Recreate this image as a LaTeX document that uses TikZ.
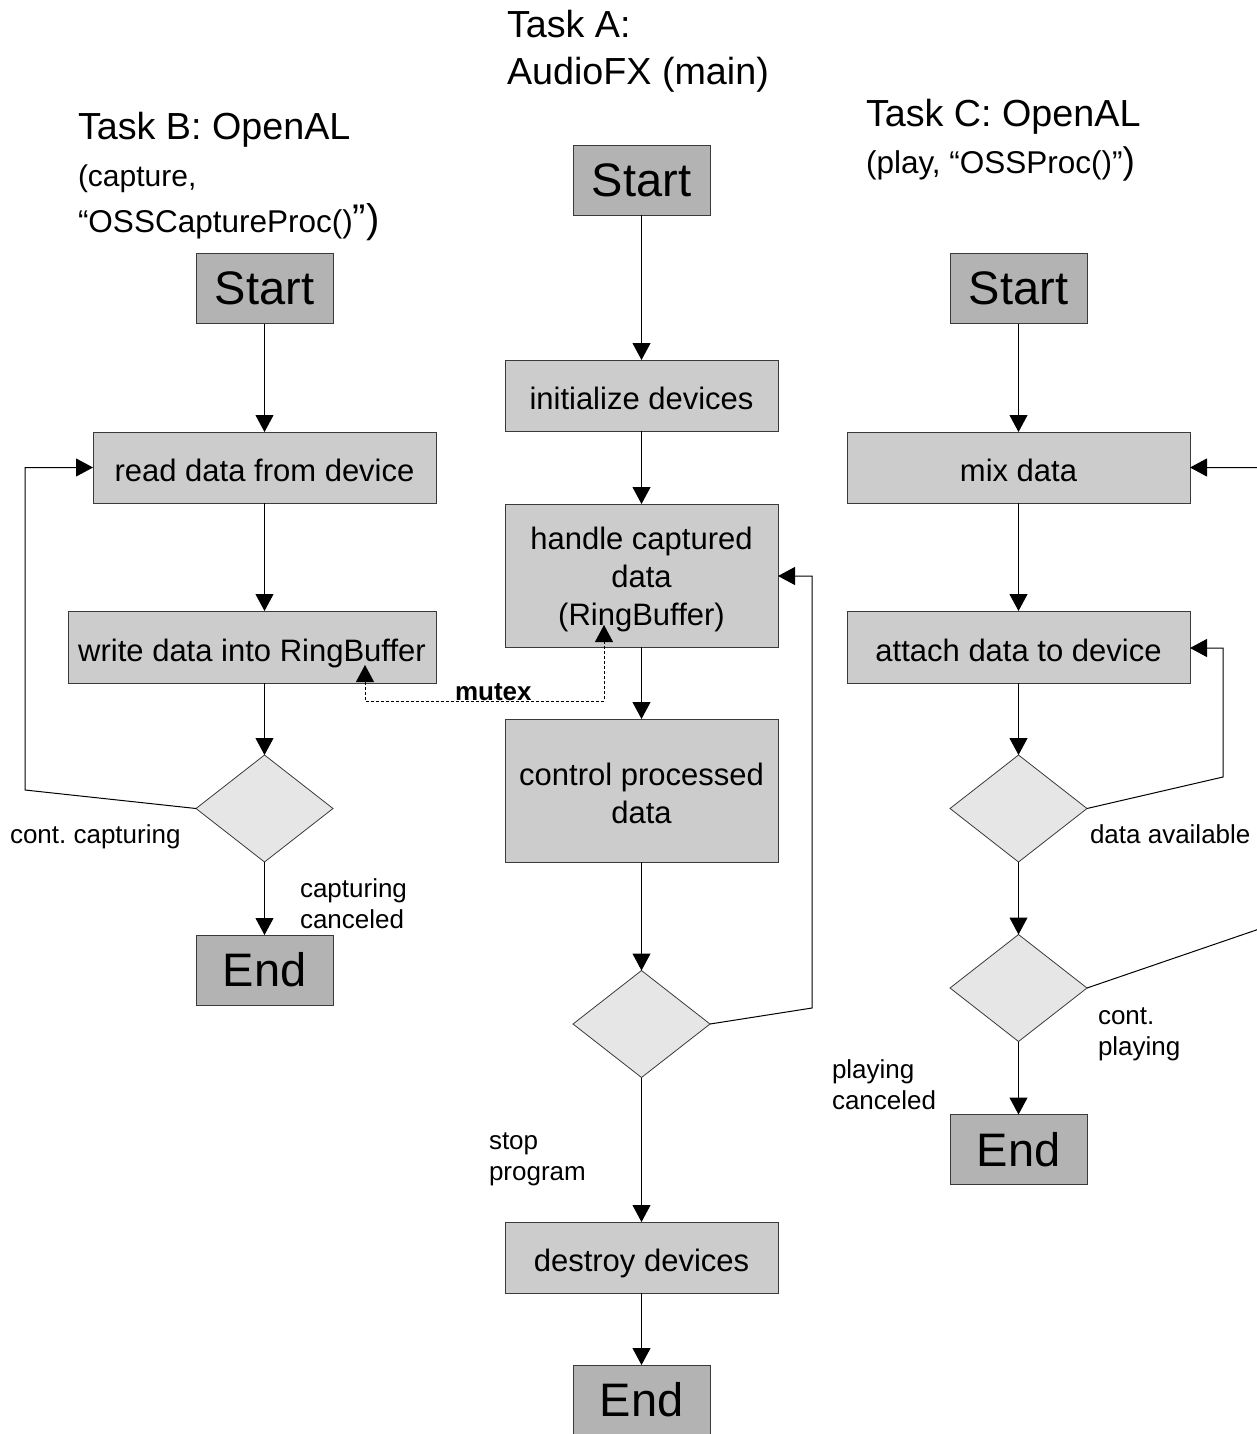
\documentclass[tikz,border=0pt]{standalone}
\usepackage{fontspec}
\setmainfont{Liberation Sans}
\usetikzlibrary{arrows.meta,shapes.geometric}
\definecolor{procgray}{HTML}{CCCCCC}
\definecolor{termgray}{HTML}{B3B3B3}
\definecolor{decgray}{HTML}{E6E6E6}
\definecolor{edgegray}{HTML}{3A3A3A}
\frenchspacing
\begin{document}
\begin{tikzpicture}[x=1pt,y=-1pt,
  every node/.style={inner sep=0pt, outer sep=0pt},
  proc/.style={draw=edgegray, line width=0.8pt, fill=procgray, align=center,
    font=\fontsize{31}{38}\selectfont},
  proc1/.style={proc, text height=28.6pt, text depth=0pt},
  term/.style={draw=edgegray, line width=0.8pt, fill=termgray,
    minimum width=137, minimum height=70, font=\fontsize{47}{50}\selectfont},
  dec/.style={draw=edgegray, line width=0.8pt, fill=decgray, diamond,
    minimum width=137, minimum height=107},
  flow/.style={line width=1pt, -{Triangle[width=18pt,length=17pt]}},
  mux/.style={line width=0.8pt, dashed, dash pattern=on 3pt off 2pt,
    {Triangle[width=18pt,length=17pt]}-{Triangle[width=18pt,length=17pt]}},
  lbl/.style={font=\fontsize{26}{31}\selectfont, anchor=base west},
  ttl/.style={font=\fontsize{37.7}{46}\selectfont, anchor=base west},
  sub/.style={font=\fontsize{30}{46}\selectfont, anchor=base west}
]
\useasboundingbox (0,0) rectangle (1257,1434);

% ---------- Task A ----------
\node[ttl] (tA1) at (507,38) {Task A:};
\node[ttl] (tA2) at (507,85) {AudioFX (main)};
\node[term] (sA) at (641.5,180) {Start};
\node[proc1, minimum width=273, minimum height=71] (iA) at (641.5,395.5) {initialize devices};
\node[proc, minimum width=273, minimum height=143] (hA) at (641.5,575.5) {\rule{0pt}{30.6pt}handle captured\\data\\(RingBuffer)};
\node[proc, minimum width=273, minimum height=143] (cA) at (641.5,790.5) {\rule{0pt}{28.6pt}control processed\\data};
\node[dec] (dA) at (641.5,1024) {};
\node[proc1, minimum width=273, minimum height=71] (xA) at (641.5,1257.5) {destroy devices};
\node[term] (eA) at (641.5,1400) {End};

\draw[flow] (sA) -- (iA);
\draw[flow] (iA) -- (hA);
\draw[flow] (hA) -- (cA);
\draw[flow] (cA) -- (dA);
\draw[flow] (dA) -- (xA);
\draw[flow] (xA) -- (eA);
\coordinate (lA1) at (812,1008);
\coordinate (lA2) at (812,576);
\draw[flow] (dA.east) -- (lA1) -- (lA2) -- (lA2 -| hA.east);
\node[lbl] (stopA) at (489,1149) {stop};
\node[lbl] (stopB) at (489,1180) {program};

% ---------- Task B ----------
\node[ttl] (tB1) at (78,140) {Task B: OpenAL};
\node[sub] (tB2) at (78,186) {(capture,};
\node[sub, font=\fontsize{31.5}{46}\selectfont] (tB3) at (78,232) {“OSSCaptureProc(){\fontsize{40}{46}\selectfont”)}};
\node[term] (sB) at (264.5,288.5) {Start};
\node[proc1, minimum width=343, minimum height=71] (rB) at (264.5,467.5) {read data from device};
\node[proc1, minimum width=368, minimum height=72] (wB) at (252,647) {write data into RingBuffer};
\node[dec] (dB) at (264.5,808.5) {};
\node[term] (eB) at (264.5,970) {End};

\draw[flow] (sB) -- (rB);
\draw[flow] (rB.south) -- (rB.south |- wB.north);
\draw[flow] (wB.south -| rB.south) -- (dB);
\draw[flow] (dB) -- (eB);
\coordinate (lB1) at (25,790);
\coordinate (lB2) at (25,467.5);
\draw[flow] (dB.west) -- (lB1) -- (lB2) -- (rB.west);
\node[lbl] (cc) at (10,843) {cont. capturing};
\node[lbl] (ccA) at (300,897) {capturing};
\node[lbl] (ccB) at (300,928) {canceled};

% ---------- mutex ----------
\coordinate (mW) at (365,665);
\coordinate (m1) at (365,701);
\coordinate (m2) at (604,701);
\coordinate (mH) at (604,625);
\draw[mux] (mW) -- (m1) -- (m2) -- (mH);
\node[font=\bfseries\fontsize{26}{31}\selectfont, anchor=base west] (mx) at (455,700) {mutex};

% ---------- Task C ----------
\node[ttl] (tC1) at (866,127) {Task C: OpenAL};
\node[sub, font=\fontsize{31.5}{46}\selectfont] (tC2) at (866,174) {(play, “OSSProc()”{\fontsize{37}{46}\selectfont)}};
\node[term] (sC) at (1018.5,288.5) {Start};
\node[proc1, minimum width=343, minimum height=71] (mC) at (1018.5,467.5) {mix data};
\node[proc1, minimum width=343, minimum height=72] (aC) at (1018.5,647) {attach data to device};
\node[dec] (dC1) at (1018.5,808.5) {};
\node[dec] (dC2) at (1018.5,988) {};
\node[term] (eC) at (1018.5,1149.5) {End};

\draw[flow] (sC) -- (mC);
\draw[flow] (mC) -- (aC);
\draw[flow] (aC) -- (dC1);
\draw[flow] (dC1) -- (dC2);
\draw[flow] (dC2) -- (eC);
\coordinate (lC1) at (1223,777);
\coordinate (lC2) at (1223,648);
\draw[flow] (dC1.east) -- (lC1) -- (lC2) -- (lC2 -| aC.east);
\coordinate (lC3) at (1300,915);
\coordinate (lC4) at (1300,467.5);
\draw[flow] (dC2.east) -- (lC3) -- (lC4) -- (mC.east);
\node[lbl] (da) at (1090,843) {data available};
\node[lbl] (cpA) at (1098,1024) {cont.};
\node[lbl] (cpB) at (1098,1055) {playing};
\node[lbl] (pcA) at (832,1078) {playing};
\node[lbl] (pcB) at (832,1109) {canceled};
\end{tikzpicture}
\end{document}
